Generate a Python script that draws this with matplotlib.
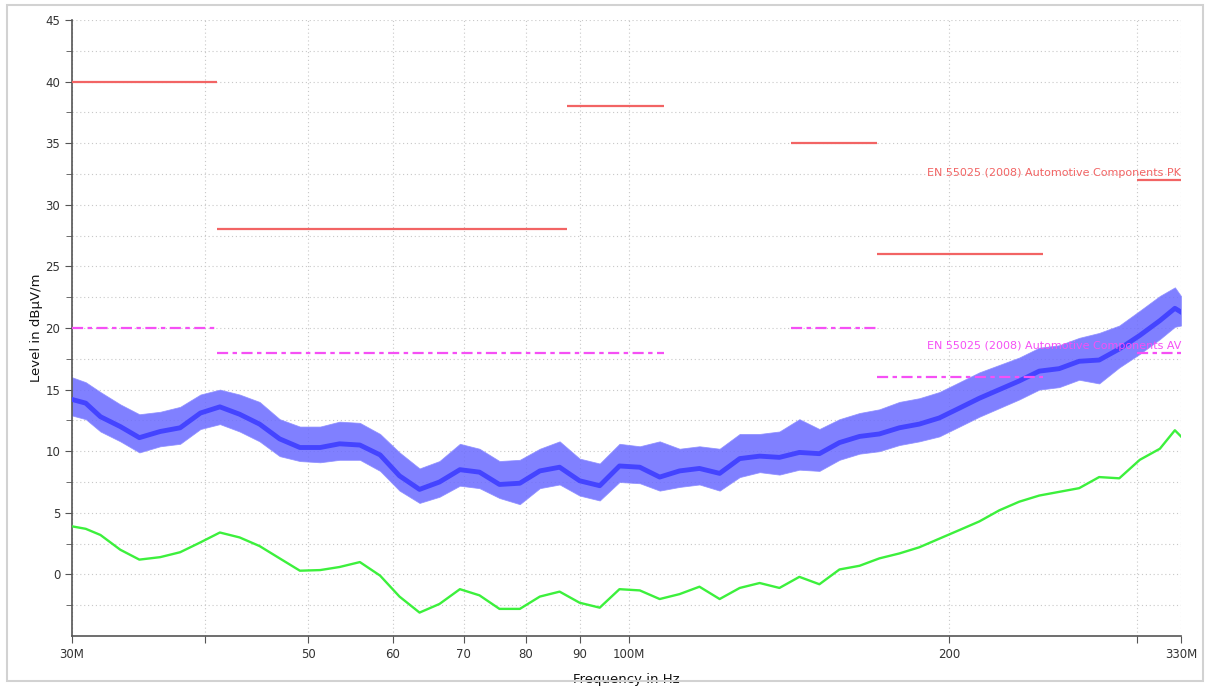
import matplotlib
matplotlib.use("Agg")
import matplotlib.pyplot as plt
from matplotlib.patches import Rectangle
from matplotlib.ticker import FixedLocator, NullFormatter

# ── Measured traces (frequency in MHz, level in dBµV/m) ──────────────────────

freq = [30.0, 30.9, 31.9, 33.3, 34.7, 36.3, 37.9, 39.6, 41.3, 43.1,
        45.0, 47.0, 49.1, 51.3, 53.5, 55.9, 58.4, 60.9, 63.6, 66.4,
        69.4, 72.4, 75.6, 79.0, 82.5, 86.1, 89.9, 93.9, 98.0, 102.4,
        106.9, 111.6, 116.5, 121.7, 127.1, 132.7, 138.5, 144.6, 151.0, 157.7,
        164.7, 171.9, 179.5, 187.4, 195.7, 204.4, 213.4, 222.8, 232.6, 242.9,
        253.6, 264.8, 276.5, 288.8, 301.9, 315.3, 325.7, 330.0]

# peak trace: centre of the noise band and its lower / upper extent
peak_mid = [14.2, 13.9, 12.8, 12.0, 11.1, 11.6, 11.9, 13.1, 13.6, 13.0,
            12.2, 11.0, 10.3, 10.3, 10.6, 10.5, 9.7, 8.0, 6.9, 7.5,
            8.5, 8.3, 7.3, 7.4, 8.4, 8.7, 7.6, 7.2, 8.8, 8.7,
            7.9, 8.4, 8.6, 8.2, 9.4, 9.6, 9.5, 9.9, 9.8, 10.7,
            11.2, 11.4, 11.9, 12.2, 12.7, 13.5, 14.3, 15.0, 15.7, 16.5,
            16.7, 17.3, 17.4, 18.3, 19.4, 20.6, 21.6, 21.3]
peak_lo = [12.9, 12.6, 11.6, 10.8, 9.9, 10.4, 10.6, 11.8, 12.2, 11.6,
           10.8, 9.6, 9.2, 9.1, 9.3, 9.3, 8.4, 6.8, 5.8, 6.3,
           7.2, 7.0, 6.2, 5.7, 7.0, 7.3, 6.4, 6.0, 7.5, 7.4,
           6.8, 7.1, 7.3, 6.8, 7.9, 8.3, 8.1, 8.5, 8.4, 9.3,
           9.8, 10.0, 10.5, 10.8, 11.2, 12.0, 12.8, 13.5, 14.2, 15.0,
           15.2, 15.8, 15.5, 16.8, 17.9, 19.1, 20.1, 20.2]
peak_hi = [16.0, 15.6, 14.8, 13.8, 13.0, 13.2, 13.6, 14.6, 15.0, 14.6,
           14.0, 12.6, 12.0, 12.0, 12.4, 12.3, 11.4, 9.9, 8.6, 9.2,
           10.6, 10.2, 9.2, 9.3, 10.2, 10.8, 9.4, 9.0, 10.6, 10.4,
           10.8, 10.2, 10.4, 10.2, 11.4, 11.4, 11.6, 12.6, 11.8, 12.6,
           13.1, 13.4, 14.0, 14.3, 14.8, 15.6, 16.4, 17.0, 17.6, 18.4,
           18.6, 19.2, 19.6, 20.2, 21.4, 22.6, 23.3, 22.6]

# average trace
avg_level = [3.9, 3.7, 3.2, 2.0, 1.2, 1.4, 1.8, 2.6, 3.4, 3.0,
             2.3, 1.3, 0.3, 0.35, 0.6, 1.0, -0.1, -1.8, -3.1, -2.4,
             -1.2, -1.7, -2.8, -2.8, -1.8, -1.4, -2.3, -2.7, -1.2, -1.3,
             -2.0, -1.6, -1.0, -2.0, -1.1, -0.7, -1.1, -0.2, -0.8, 0.4,
             0.7, 1.3, 1.7, 2.2, 2.9, 3.6, 4.3, 5.2, 5.9, 6.4,
             6.7, 7.0, 7.9, 7.8, 9.3, 10.2, 11.7, 11.2]

# ── Limit lines (EN 55025) ───────────────────────────────────────────────────

pk_start = [30, 41, 87.5, 142, 171, 300]
pk_stop = [41, 87.5, 108, 171, 245, 330]
pk_level = [40, 28, 38, 35, 26, 32]

av_start = [30, 41, 142, 171, 300]
av_stop = [41, 108, 171, 245, 330]
av_level = [20, 18, 20, 16, 18]

pk_label = "EN 55025 (2008) Automotive Components PK"
av_label = "EN 55025 (2008) Automotive Components AV"

x_ticks = [30, 40, 50, 60, 70, 80, 90, 100, 200, 300, 330]
x_labels = ["30M", "", "50", "60", "70", "80", "90", "100M", "200", "", "330M"]
y_ticks = [0, 5, 10, 15, 20, 25, 30, 35, 40, 45]

RED = "#f26464"
MAGENTA = "#f550f5"
BLUE = "#4444ff"
GREEN = "#3cf03c"
GRID = "#c8c8c8"
TEXT = "#333333"

plt.rcParams["font.family"] = ["DejaVu Sans"]

fig = plt.figure(figsize=(12.09, 6.86), dpi=100)
ax = fig.add_axes([0.0596, 0.0729, 0.9172, 0.8979])

# grid
ax.set_xscale("log")
ax.set_xlim(30, 330)
ax.set_ylim(-5, 45)
ax.xaxis.set_major_locator(FixedLocator(x_ticks))
ax.xaxis.set_minor_locator(FixedLocator([]))
ax.set_xticklabels(x_labels)
ax.xaxis.set_minor_formatter(NullFormatter())
ax.yaxis.set_major_locator(FixedLocator(y_ticks))
ax.yaxis.set_minor_locator(FixedLocator([-2.5, 2.5, 7.5, 12.5, 17.5, 22.5, 27.5, 32.5, 37.5, 42.5]))
ax.grid(True, which="both", color=GRID, linestyle=(0, (1, 2.5)), linewidth=0.8)
ax.set_axisbelow(True)

# traces
ax.fill_between(freq, peak_lo, peak_hi, color="#6a6aff", linewidth=0.6,
                edgecolor="#8c8cff", alpha=0.85, zorder=2)
ax.plot(freq, peak_mid, color=BLUE, linewidth=3.5, zorder=3)
ax.plot(freq, avg_level, color=GREEN, linewidth=1.7, zorder=3)

# limit lines
ax.hlines(pk_level, pk_start, pk_stop, colors=RED, linewidth=1.6, zorder=4)
ax.hlines(av_level, av_start, av_stop, colors=MAGENTA, linewidth=1.6,
          linestyles=[(0, (5, 2, 2, 2))], zorder=4)

ax.text(330, 32.2, pk_label, color=RED, fontsize=8, ha="right", va="bottom", zorder=5)
ax.text(330, 18.1, av_label, color=MAGENTA, fontsize=8, ha="right", va="bottom", zorder=5)

# axes styling
for side in ["top", "right"]:
    ax.spines[side].set_visible(False)
for side in ["left", "bottom"]:
    ax.spines[side].set_color("#555555")
    ax.spines[side].set_linewidth(1.2)
ax.tick_params(axis="both", which="major", length=5, color="#555555",
               labelsize=8.5, labelcolor=TEXT)
ax.tick_params(axis="y", which="minor", length=4, color="#555555")
ax.tick_params(axis="x", pad=4)

ax.set_xlabel("Frequency in Hz", fontsize=9.5, color="#111111", labelpad=8)
ax.set_ylabel("Level in dBµV/m", fontsize=9.5, color="#111111", labelpad=2)

# outer frame of the export
fig.patches.append(Rectangle((0.006, 0.007), 0.989, 0.985, transform=fig.transFigure,
                             fill=False, edgecolor="#d2d2d2", linewidth=1.5))

fig.savefig("out.png", dpi=100)
